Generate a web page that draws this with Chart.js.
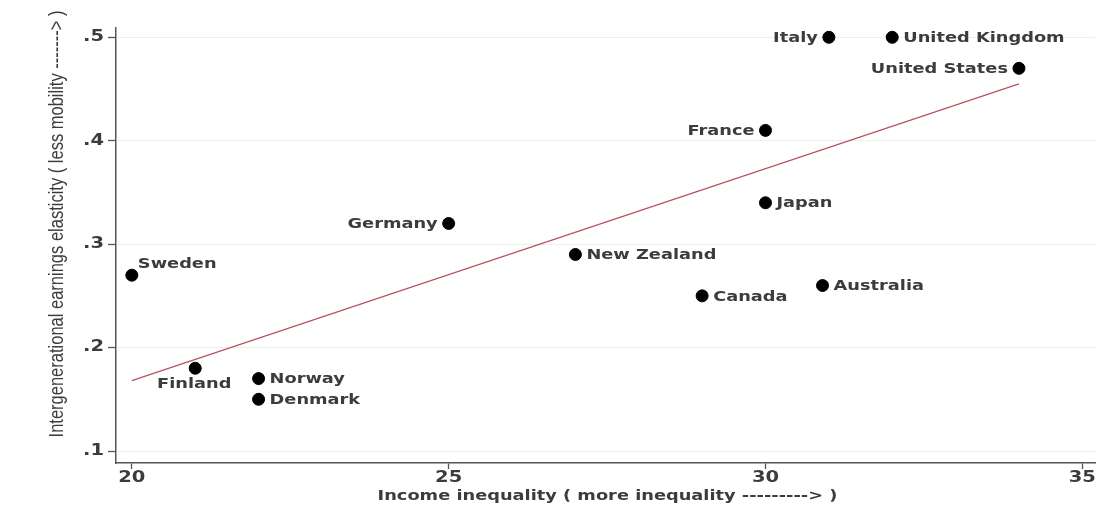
<!DOCTYPE html>
<html>
<head>
<meta charset="utf-8">
<script src="https://cdn.jsdelivr.net/npm/chart.js@4/dist/chart.umd.min.js"></script>
<style>
  html, body { margin: 0; padding: 0; background: #fff; }
  #wrap { width: 1120px; height: 506px; }
</style>
</head>
<body>
<div id="wrap"><canvas id="c" width="1120" height="506"></canvas></div>
<script>
// data
var countries = ['Sweden','Finland','Norway','Denmark','Germany','New Zealand','Canada','Australia','Japan','France','Italy','United Kingdom','United States'];
var inequality = [20, 21, 22, 22, 25, 27, 29, 30.9, 30, 30, 31, 32, 34];
var elasticity = [0.27, 0.18, 0.17, 0.15, 0.32, 0.29, 0.25, 0.26, 0.34, 0.41, 0.50, 0.50, 0.47];
var labelSide = ['aboveRight','below','right','right','left','right','right','right','right','left','left','right','left'];
var fitX = [20, 34];
var fitY = [0.168, 0.455];
var xTicks = [20, 25, 30, 35];
var yTicks = [0.1, 0.2, 0.3, 0.4, 0.5];
var xTitle = 'Income inequality ( more inequality ---------> )';
var yTitle = 'Intergenerational earnings elasticity ( less mobility -------> )';

var axisColor = '#555';
var textColor = '#3c3c3c';
var wideFont = '"DejaVu Sans", Verdana, sans-serif';
var stretch = 1.27; // the original picture is stretched sideways

// text drawn a bit wider than the font, like the original
function wideText(ctx, txt, x, y, align, sx){
  ctx.save();
  ctx.translate(x, y);
  ctx.scale(sx || stretch, 1);
  ctx.textAlign = align;
  ctx.fillText(txt, 0, 0);
  ctx.restore();
}

var textPlugin = {
  id: 'textPlugin',
  afterDraw: function(chart){
    var ctx = chart.ctx;
    var xs = chart.scales.x, ys = chart.scales.y;
    ctx.save();
    ctx.fillStyle = textColor;
    ctx.textBaseline = 'middle';

    // tick labels
    ctx.font = 'bold 15px ' + wideFont;
    xTicks.forEach(function(v){
      wideText(ctx, String(v), xs.getPixelForValue(v), 478, 'center', 1.3);
    });
    yTicks.forEach(function(v){
      wideText(ctx, v.toFixed(1).replace(/^0/, ''), 104, ys.getPixelForValue(v), 'right', 1.3);
    });

    // axis titles
    ctx.font = 'bold 14px ' + wideFont;
    wideText(ctx, xTitle, (chart.chartArea.left + chart.chartArea.right) / 2 + 2, 496, 'center');

    ctx.save();
    ctx.font = '16.5px "Liberation Sans Narrow", "Liberation Sans", Arial, sans-serif';
    ctx.translate(57, 224);
    ctx.scale(stretch, 1);
    ctx.rotate(-Math.PI / 2);
    ctx.textAlign = 'center';
    ctx.fillText(yTitle, 0, 0);
    ctx.restore();

    // country names next to the dots
    ctx.font = 'bold 14px ' + wideFont;
    var meta = chart.getDatasetMeta(0);
    meta.data.forEach(function(pt, i){
      var side = labelSide[i];
      var x = pt.x, y = pt.y;
      if(side=='right') wideText(ctx, countries[i], x+11, y+1, 'left');
      else if(side=='left') wideText(ctx, countries[i], x-11, y+1, 'right');
      else if(side=='below') wideText(ctx, countries[i], x-1, y+16, 'center');
      else wideText(ctx, countries[i], x+6, y-11, 'left');
    });
    ctx.restore();
  }
};

function fixTicks(list){
  return function(scale){ scale.ticks = list.map(function(v){ return {value:v}; }); };
}

var ctx = document.getElementById('c');
var chart = new Chart(ctx, {
  type: 'scatter',
  data: {
    datasets: [
      {
        label: 'countries',
        data: inequality.map(function(v,i){ return {x:v, y:elasticity[i]}; }),
        backgroundColor: '#000',
        borderColor: '#000',
        pointRadius: 6,
        pointHoverRadius: 6,
        order: 1
      },
      {
        type: 'line',
        label: 'fit',
        data: fitX.map(function(v,i){ return {x:v, y:fitY[i]}; }),
        borderColor: '#b8545e',
        borderWidth: 1.3,
        pointRadius: 0,
        fill: false,
        order: 2
      }
    ]
  },
  options: {
    responsive: false,
    animation: false,
    layout: { padding: { top: 28, right: 25, left: 0, bottom: 0 } },
    plugins: {
      legend: { display: false },
      tooltip: { enabled: false }
    },
    scales: {
      x: {
        type: 'linear',
        min: 19.75,
        max: 35.2,
        afterBuildTicks: fixTicks(xTicks),
        afterFit: function(s){ s.height = 43; },
        grid: { drawOnChartArea: false, tickColor: axisColor, tickLength: 6, tickWidth: 1.3 },
        border: { color: axisColor, width: 1.5 },
        ticks: { display: false }
      },
      y: {
        type: 'linear',
        min: 0.0884,
        max: 0.509,
        afterBuildTicks: fixTicks(yTicks),
        afterFit: function(s){ s.width = 116; },
        grid: { color: '#eeeeee', tickColor: axisColor, tickLength: 8, tickWidth: 1.3 },
        border: { color: axisColor, width: 1.5 },
        ticks: { display: false }
      }
    }
  },
  plugins: [textPlugin]
});
</script>
</body>
</html>
